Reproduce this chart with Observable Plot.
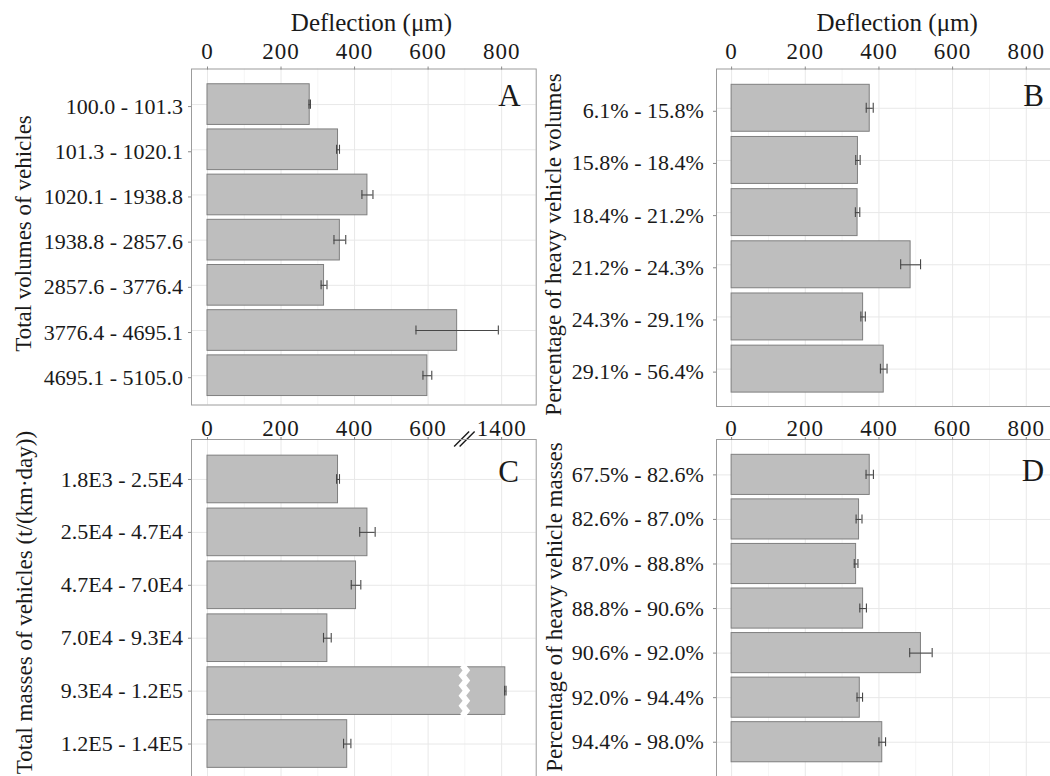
<!DOCTYPE html>
<html>
<head>
<meta charset="utf-8">
<script src="https://cdn.jsdelivr.net/npm/d3@7"></script>
<script src="https://cdn.jsdelivr.net/npm/@observablehq/plot@0.6"></script>
<style>
  html, body { margin: 0; padding: 0; background: #fff; overflow: hidden; }
  #fig { position: relative; width: 1050px; height: 776px; overflow: hidden; background: #fff; }
  #fig > svg { position: absolute; }
  #fig svg, #fig svg text { font-family: "Liberation Serif", "Times New Roman", serif !important; }
</style>
</head>
<body>
<div id="fig"></div>
<script>
// Panel A: total traffic volume classes
const volumeBins = ["100.0 - 101.3", "101.3 - 1020.1", "1020.1 - 1938.8", "1938.8 - 2857.6", "2857.6 - 3776.4", "3776.4 - 4695.1", "4695.1 - 5105.0"];
const volumeMeans = [278, 355, 435, 360, 317, 679, 598];
const volumeErrors = [2, 4, 15, 16, 8, 112, 12];

// Panel B: share of heavy vehicles in the volume
const heavyVolumeBins = ["6.1% - 15.8%", "15.8% - 18.4%", "18.4% - 21.2%", "21.2% - 24.3%", "24.3% - 29.1%", "29.1% - 56.4%"];
const heavyVolumeMeans = [375, 343, 342, 486, 357, 413];
const heavyVolumeErrors = [9.5, 6, 6, 27, 6, 9];

// Panel C: total vehicle mass classes
const massBins = ["1.8E3 - 2.5E4", "2.5E4 - 4.7E4", "4.7E4 - 7.0E4", "7.0E4 - 9.3E4", "9.3E4 - 1.2E5", "1.2E5 - 1.4E5"];
const massMeans = [355, 435, 404, 326, 1410, 380];
const massErrors = [4, 21, 13, 10.5, 2, 10];

// Panel D: share of heavy vehicles in the mass
const heavyMassBins = ["67.5% - 82.6%", "82.6% - 87.0%", "87.0% - 88.8%", "88.8% - 90.6%", "90.6% - 92.0%", "92.0% - 94.4%", "94.4% - 98.0%"];
const heavyMassMeans = [375, 346, 338, 357, 514, 348, 409];
const heavyMassErrors = [10, 8, 5, 9, 30.5, 7.5, 9];

// Deflection axis ticks
const deflectionTicks = [0, 200, 400, 600, 800];
const deflectionMinorTicks = [100, 300, 500, 700];
const brokenAxisTicks = [0, 200, 400, 600, 1400];

const xTitle = "Deflection (μm)";
const ink = "#1a1a1a";
const font = "Liberation Serif, Times New Roman, serif";

// Axis break for panel C: values above 700 are pulled back by 600
const breakAt = 700;
const breakGap = 600;
const brokenX = v => (v > breakAt ? v - breakGap : v);

function panel(cfg) {
  const rows = cfg.bins.map((bin, i) => ({bin, mean: cfg.means[i], err: cfg.errors[i]}));
  const px = cfg.scaleValue || (v => v);
  const tickText = new Map(cfg.ticks.map(v => [px(v), String(v)]));
  const lo = d => px(d.mean - d.err);
  const hi = d => px(d.mean + d.err);
  const errStyle = {stroke: "#474747", strokeWidth: 1.1};
  const marks = [
    Plot.gridX(deflectionMinorTicks, {stroke: "#f3f3f3", strokeOpacity: 1, strokeWidth: 0.8}),
    Plot.gridX(cfg.ticks.map(px), {stroke: "#e8e8e8", strokeOpacity: 1}),
    Plot.gridY({stroke: "#e8e8e8", strokeOpacity: 1}),
    Plot.barX(rows, {y: "bin", x: d => px(d.mean), fill: "#bebebe", stroke: "#7f7f7f", strokeWidth: 1}),
    ...(cfg.extra || []),
    Plot.ruleY(rows, {y: "bin", x1: lo, x2: hi, ...errStyle}),
    Plot.tickX(rows, {y: "bin", x: lo, insetTop: cfg.capInset, insetBottom: cfg.capInset, ...errStyle}),
    Plot.tickX(rows, {y: "bin", x: hi, insetTop: cfg.capInset, insetBottom: cfg.capInset, ...errStyle}),
    Plot.frame({stroke: "#9c9c9c"}),
    Plot.axisX(cfg.ticks.map(px), {
      anchor: "top", tickSize: 3, tickPadding: cfg.xTickPadding,
      tickFormat: d => tickText.get(d), fontSize: 23,
      stroke: "#8a8a8a", fill: ink, label: null
    }),
    Plot.axisY({
      anchor: "left", tickSize: 3, tickPadding: cfg.yTickPadding, fontSize: 22,
      stroke: "#8a8a8a", fill: ink, label: null, dy: cfg.yLabelDy || 0
    }),
    Plot.text([cfg.yTitle], {
      text: d => d, frameAnchor: "left", rotate: -90, lineAnchor: "middle", textAnchor: "middle",
      dx: cfg.yTitleDx, dy: cfg.yTitleDy, fontSize: 23, fill: ink
    }),
    Plot.text([cfg.letter], {
      text: d => d, frameAnchor: "top-right", textAnchor: "middle", lineAnchor: "bottom",
      dx: cfg.letterDx, dy: cfg.letterDy, fontSize: 31, fill: ink
    })
  ];
  if (cfg.xTitle) {
    marks.push(Plot.text([cfg.xTitle], {
      text: d => d, frameAnchor: "top", textAnchor: "middle", lineAnchor: "bottom",
      dx: cfg.xTitleDx, dy: cfg.xTitleDy, fontSize: 25, fill: ink, ariaLabel: "deflection title"
    }));
  }
  const svg = Plot.plot({
    width: cfg.width, height: cfg.height,
    marginLeft: cfg.ml, marginRight: cfg.mr, marginTop: cfg.mt, marginBottom: cfg.mb,
    style: {fontFamily: font, background: "transparent", color: ink, overflow: "visible"},
    x: {domain: cfg.xDomain},
    y: {domain: cfg.bins, range: cfg.yRange, paddingInner: 0.1, paddingOuter: 0.05, round: false},
    marks
  });
  svg.setAttribute("font-family", font);
  svg.querySelectorAll('[aria-label="x-axis tick label"], [aria-label="deflection title"]')
    .forEach(g => { g.style.letterSpacing = "1px"; });
  svg.style.left = cfg.left + "px";
  svg.style.top = cfg.top + "px";
  document.getElementById("fig").appendChild(svg);
}

// Gap cut through the bar that crosses the axis break
const barBreak = (index, scales) => {
  const x = scales.x(breakAt);
  const y0 = scales.y(massBins[4]);
  const bw = scales.y.bandwidth ? scales.y.bandwidth() : 47;
  const teeth = 10;
  const pts = d3.range(teeth + 1).map(k => [x + (k % 2 ? 2 : -2), y0 - 1.5 + (bw + 3) * k / teeth]);
  const path = d3.create("svg:path")
    .attr("d", d3.line()(pts))
    .attr("fill", "none")
    .attr("stroke", "#fff")
    .attr("stroke-width", 6);
  return path.node();
};

// Double slash marking the break on the top axis line
const axisBreak = (index, scales, values, dims) => {
  const x = scales.x(breakAt);
  const y = dims.marginTop;
  const g = d3.create("svg:g").attr("stroke", ink).attr("stroke-width", 1.4).attr("fill", "none");
  for (const off of [-2.75, 2.75]) {
    g.append("line")
      .attr("x1", x + off - 7.5).attr("y1", y + 7.5)
      .attr("x2", x + off + 7.5).attr("y2", y - 7.5);
  }
  return g.node();
};

panel({
  bins: volumeBins, means: volumeMeans, errors: volumeErrors,
  ticks: deflectionTicks, letter: "A", yTitle: "Total volumes of vehicles", xTitle,
  left: 0, top: 0, width: 545, height: 408, ml: 191, mr: 9.3, mt: 68.5, mb: 3.5,
  xDomain: [-43.5, 894], yRange: [81.5, 397.8], capInset: 15.8,
  xTickPadding: 7, yTickPadding: 5.5, yLabelDy: 2,
  yTitleDx: -167.5, yTitleDy: -3.5, letterDx: -26.7, letterDy: 36.5, xTitleDx: 7.6, xTitleDy: -38.1
});

panel({
  bins: heavyVolumeBins, means: heavyVolumeMeans, errors: heavyVolumeErrors,
  ticks: deflectionTicks, letter: "B", yTitle: "Percentage of heavy vehicle volumes", xTitle,
  left: 535, top: 0, width: 560, height: 408, ml: 181, mr: 34.6, mt: 68.5, mb: 2,
  xDomain: [-41, 894], yRange: [81.7, 394.7], capInset: 18.5,
  xTickPadding: 7, yTickPadding: 9.7, yLabelDy: 3,
  yTitleDx: -162.5, yTitleDy: 6.75, letterDx: -27.4, letterDy: 36.5, xTitleDx: 8.5, xTitleDy: -38.5
});

panel({
  bins: massBins, means: massMeans, errors: massErrors, scaleValue: brokenX,
  ticks: brokenAxisTicks, letter: "C", yTitle: "Total masses of vehicles (t/(km·day))",
  left: 0, top: 408, width: 545, height: 392, ml: 191, mr: 9.3, mt: 31, mb: 10,
  xDomain: [-43.5, 894], yRange: [44.5, 362], capInset: 19,
  xTickPadding: 0.5, yTickPadding: 5.5,
  yTitleDx: -166.5, yTitleDy: -12.5, letterDx: -27.7, letterDy: 42,
  extra: [barBreak, axisBreak]
});

panel({
  bins: heavyMassBins, means: heavyMassMeans, errors: heavyMassErrors,
  ticks: deflectionTicks, letter: "D", yTitle: "Percentage of heavy vehicle masses",
  left: 535, top: 408, width: 560, height: 392, ml: 181, mr: 34.6, mt: 31, mb: 10,
  xDomain: [-41, 894], yRange: [44.1, 356], capInset: 15.5,
  xTickPadding: 0.5, yTickPadding: 9.7,
  yTitleDx: -162, yTitleDy: -8, letterDx: -27.9, letterDy: 41
});
</script>
</body>
</html>
